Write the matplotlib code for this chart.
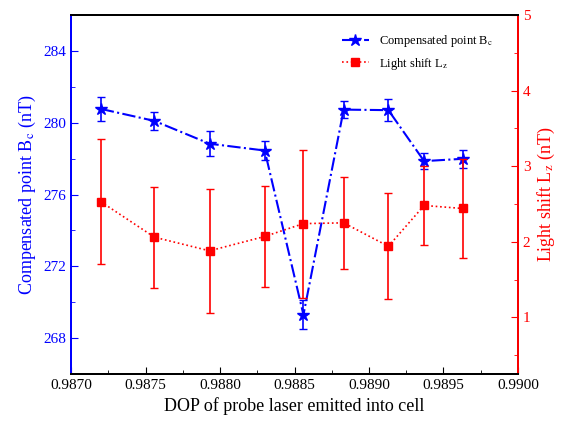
import matplotlib.pyplot as plt
from matplotlib.ticker import MultipleLocator

plt.rcParams['font.family'] = ['Liberation Serif', 'DejaVu Serif']
plt.rcParams['mathtext.fontset'] = 'stix'

# data
dop = [0.98720, 0.98756, 0.98793, 0.98830, 0.98856, 0.98883, 0.98913, 0.98937, 0.98963]
bc = [280.77, 280.10, 278.83, 278.45, 269.30, 280.73, 280.70, 277.86, 277.99]
bc_err = [0.66, 0.50, 0.70, 0.55, 0.80, 0.47, 0.60, 0.45, 0.50]
lz = [2.53, 2.06, 1.88, 2.07, 2.24, 2.25, 1.94, 2.48, 2.44]
lz_err = [0.83, 0.67, 0.82, 0.67, 0.98, 0.61, 0.70, 0.52, 0.66]

fig = plt.figure(figsize=(5.65, 4.23), dpi=100)
ax = fig.add_axes([0.1257, 0.1158, 0.7911, 0.8487])
ax2 = ax.twinx()

l1 = ax.errorbar(dop, bc, yerr=bc_err, color='blue', ls='-.', lw=1.5,
                 marker='*', ms=9, capsize=3, elinewidth=1.2)
l2 = ax2.errorbar(dop, lz, yerr=lz_err, color='red', ls=':', lw=1.2,
                  marker='s', ms=6, capsize=3, elinewidth=1.2)

ax.set_xlim(0.9870, 0.9900)
ax.set_ylim(266, 286)
ax2.set_ylim(0.25, 5)

ax.xaxis.set_major_locator(MultipleLocator(0.0005))
ax.xaxis.set_minor_locator(MultipleLocator(0.00025))
ax.set_xticklabels([f'{v:.4f}' for v in ax.get_xticks()])
ax.yaxis.set_major_locator(MultipleLocator(4))
ax.yaxis.set_minor_locator(MultipleLocator(2))
ax2.yaxis.set_major_locator(MultipleLocator(1))
ax2.yaxis.set_minor_locator(MultipleLocator(0.5))

ax.tick_params(which='both', direction='in', labelsize=11)
ax.tick_params(which='major', length=5)
ax.tick_params(which='minor', length=3)
ax.tick_params(axis='y', which='both', colors='blue', labelcolor='blue')
ax.tick_params(axis='x', which='both', colors='black')
ax2.tick_params(which='both', direction='in', labelsize=11,
                colors='red', labelcolor='red')
ax2.tick_params(which='major', length=5)
ax2.tick_params(which='minor', length=3)

ax.spines['left'].set_color('blue')
ax2.spines['left'].set_color('blue')
ax2.spines['right'].set_color('red')
for s in list(ax.spines.values()) + list(ax2.spines.values()):
    s.set_linewidth(1.4)

ax.set_xlabel('DOP of probe laser emitted into cell', fontsize=13)
ax.set_ylabel('Compensated point B$_\\mathrm{c}$ (nT)', fontsize=13, color='blue')
ax2.set_ylabel('Light shift L$_\\mathrm{z}$ (nT)', fontsize=13, color='red')

# legend without the error bar glyphs, as in the original
ax.legend([l1[0], l2[0]],
          ['Compensated point B$_\\mathrm{c}$', 'Light shift L$_\\mathrm{z}$'],
          loc='upper right', frameon=False, fontsize=9,
          bbox_to_anchor=(0.97, 0.98), handlelength=2.2)

fig.savefig('out.png', dpi=100)
